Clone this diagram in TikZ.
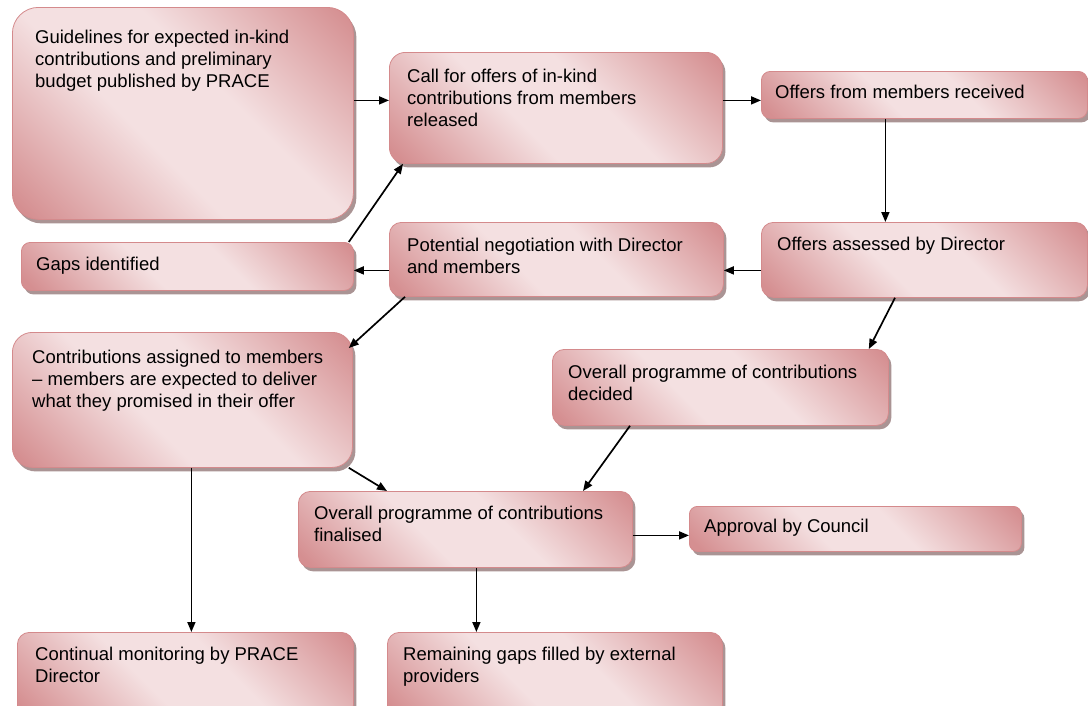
\documentclass[tikz,border=0pt]{standalone}
\usepackage{fontspec}
\setmainfont{Liberation Sans}
\usetikzlibrary{arrows.meta,shadows}
\definecolor{pkd}{RGB}{213,143,145}
\definecolor{pkl}{RGB}{244,224,225}
\definecolor{pkb}{RGB}{212,138,140}
\definecolor{shc}{RGB}{170,148,148}
\pgfdeclarehorizontalshading{pinkgrad}{100bp}{color(0bp)=(pkd); color(17bp)=(pkd); color(42bp)=(pkl); color(58bp)=(pkl); color(84bp)=(pkd); color(100bp)=(pkd)}
\tikzset{
  box/.style={draw=pkb, line width=0.8pt, shading=pinkgrad, shading angle=45,
    general shadow={fill=shc, shadow xshift=3pt, shadow yshift=-4pt},
    anchor=north west, inner sep=0pt},
  txt/.style={anchor=base west, inner sep=0pt,
    font=\fontsize{18.5}{22}\selectfont},
  arr/.style={line width=1.7pt, -{Triangle[length=10pt,width=8pt]}},
}
\newcommand\pinkbox[6]{%
  \node[box, minimum width=#4pt, minimum height=#5pt, rounded corners=#6pt] (#1) at (#2,#3) {};}
\newcommand\tlines[1]{\parbox[t]{330pt}{\raggedright #1}}
\begin{document}
\begin{tikzpicture}[x=1pt,y=-1pt]
\path[use as bounding box] (0,0) rectangle (1088,705);
\clip (0,0) rectangle (1088,705);
% boxes
\pinkbox{g}{12}{7}{341}{212}{26}
\pinkbox{c}{389}{52}{333}{111}{16}
\pinkbox{r}{761}{71}{326}{47}{9}
\pinkbox{a}{761}{222}{326}{75}{12}
\pinkbox{p}{389}{222}{334}{74}{12}
\pinkbox{gp}{21}{242}{332}{48}{9}
\pinkbox{ct}{12}{332}{340}{135}{20}
\pinkbox{od}{552}{349}{336}{76}{12}
\pinkbox{fn}{298}{491}{334}{76}{12}
\pinkbox{ap}{689}{506}{332}{45}{8}
\pinkbox{cm}{17}{632}{336}{85}{12}
\pinkbox{rg}{387}{632}{335}{85}{12}
% texts
\node[txt] (gt) at ([xshift=23pt,yshift=-36pt]g.north west) {\tlines{Guidelines for expected in-kind\\contributions and preliminary\\budget published by PRACE}};
\node[txt] (ctx) at ([xshift=18pt,yshift=-30pt]c.north west) {\tlines{Call for offers of in-kind\\contributions from members\\released}};
\node[txt] (rt) at ([xshift=14pt,yshift=-27pt]r.north west) {Offers from members received};
\node[txt] (at) at ([xshift=16pt,yshift=-28pt]a.north west) {Offers assessed by Director};
\node[txt] (pt) at ([xshift=18pt,yshift=-29pt]p.north west) {\tlines{Potential negotiation with Director\\and members}};
\node[txt] (gpt) at ([xshift=15pt,yshift=-28pt]gp.north west) {Gaps identified};
\node[txt] (ctt) at ([xshift=20pt,yshift=-31pt]ct.north west) {\tlines{Contributions assigned to members\\– members are expected to deliver\\what they promised in their offer}};
\node[txt] (odt) at ([xshift=16pt,yshift=-29pt]od.north west) {\tlines{Overall programme of contributions\\decided}};
\node[txt] (fnt) at ([xshift=16pt,yshift=-28pt]fn.north west) {\tlines{Overall programme of contributions\\finalised}};
\node[txt] (apt) at ([xshift=15pt,yshift=-26pt]ap.north west) {Approval by Council};
\node[txt] (cmt) at ([xshift=18pt,yshift=-28pt]cm.north west) {\tlines{Continual monitoring by PRACE\\Director}};
\node[txt] (rgt) at ([xshift=16pt,yshift=-28pt]rg.north west) {\tlines{Remaining gaps filled by external\\providers}};
% arrows
\draw[arr] ([yshift=13pt]g.east) -- ([yshift=7.5pt]c.west);
\draw[arr] ([yshift=7.5pt]c.east) -- ([yshift=-5.5pt]r.west);
\draw[arr] ([xshift=-39pt]r.south) -- ([xshift=-39pt]a.north);
\draw[arr] ([yshift=-10.5pt]a.west) -- ([yshift=-11pt]p.east);
\draw[arr] ([yshift=-11pt]p.west) -- ([yshift=-4pt]gp.east);
\draw[arr] ([xshift=-5pt]gp.north east) -- ([xshift=14pt]c.south west);
\draw[arr] ([xshift=16pt]p.south west) -- ([xshift=-4pt,yshift=-16pt]ct.north east);
\draw[arr] ([xshift=134pt]a.south west) -- ([xshift=-20pt]od.north east);
\draw[arr] ([xshift=78pt]od.south west) -- ([xshift=285pt]fn.north west);
\draw[arr] ([xshift=-4pt]ct.south east) -- ([xshift=89pt]fn.north west);
\draw[arr] ([xshift=9pt]ct.south) -- ([xshift=6pt]cm.north);
\draw[arr] ([xshift=11pt]fn.south) -- ([xshift=-78.5pt]rg.north);
\draw[arr] ([yshift=-6pt]fn.east) -- ([yshift=-6.5pt]ap.west);
\end{tikzpicture}
\end{document}
